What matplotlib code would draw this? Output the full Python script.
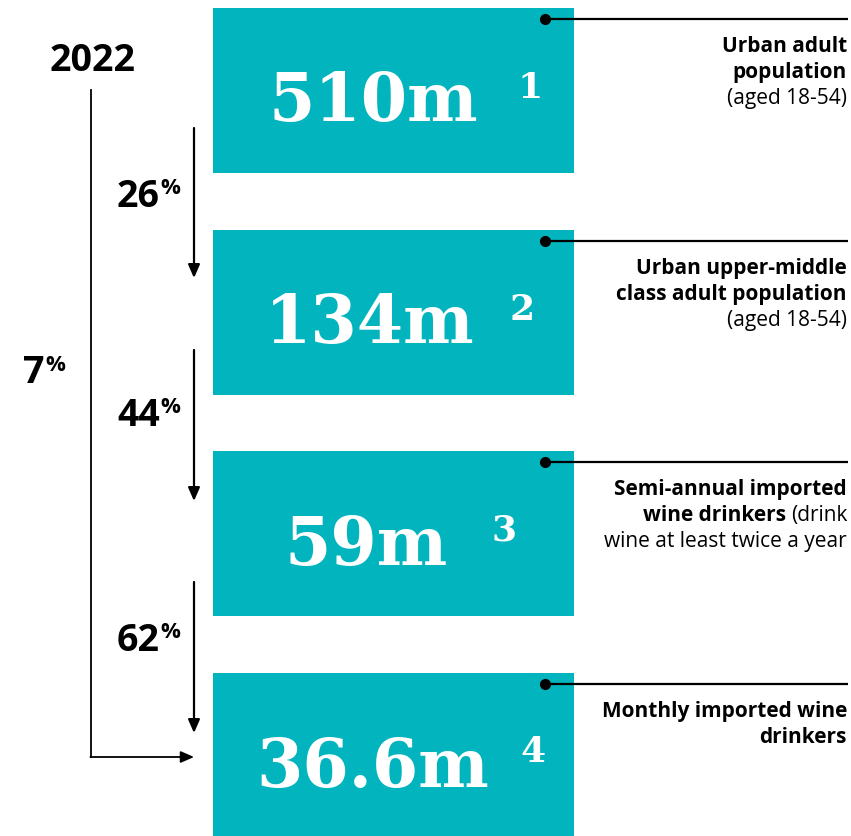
import matplotlib
matplotlib.use("Agg")
import matplotlib.pyplot as plt

# funnel figures, 2022
values = ["510m", "134m", "59m", "36.6m"]
notes = ["1", "2", "3", "4"]
step_pct = ["26", "44", "62"]
total_pct = "7"
year = "2022"

# each label: list of lines, each line a list of (text, weight) pieces
labels = [
    [[("Urban adult", "bold")],
     [("population", "bold")],
     [("(aged 18-54)", "normal")]],
    [[("Urban upper-middle", "bold")],
     [("class adult population", "bold")],
     [("(aged 18-54)", "normal")]],
    [[("Semi-annual imported", "bold")],
     [("wine drinkers", "bold"), ("(drink", "normal")],
     [("wine at least twice a year", "normal")]],
    [[("Monthly imported wine", "bold")],
     [("drinkers", "bold")]],
]

TEAL = "#02B4BE"
SANS = "Open Sans"
SERIF = "DejaVu Serif"

W, H = 851, 836
fig = plt.figure(figsize=(W / 100, H / 100), dpi=100)
ax = fig.add_axes([0, 0, 1, 1])
ax.set_xlim(0, W)
ax.set_ylim(H, 0)
ax.axis("off")

box_left, box_w, box_h = 213, 361, 165
row_top = [8, 230, 451, 673]
centers = [t + box_h / 2 for t in row_top]
ax.barh(centers, box_w, left=box_left, height=box_h, color=TEAL, linewidth=0)

num_x = [268, 265, 285, 256]
sup_x = [518, 510, 492, 520]
for i, c in enumerate(centers):
    ax.text(num_x[i], c + 31, values[i], color="white", fontsize=48,
            fontfamily=SERIF, fontweight="bold", ha="left", va="baseline")
    ax.text(sup_x[i], c + 7, notes[i], color="white", fontsize=26,
            fontfamily=SERIF, fontweight="bold", ha="left", va="baseline")

# leader lines with dots and the labels on the right
renderer = fig.canvas.get_renderer()
right = 847
for i, t in enumerate(row_top):
    ly = t + 11
    ax.plot([545, 848], [ly, ly], color="black", lw=1.6, solid_capstyle="butt")
    ax.plot(545, ly, "o", color="black", ms=7)
    for j, line in enumerate(labels[i]):
        by = ly + 33 + 26 * j
        x = right
        for text, weight in reversed(line):
            txt = ax.text(x, by, text, fontsize=15, fontfamily=SANS,
                          fontweight=weight, ha="right", va="baseline",
                          color="black")
            bb = txt.get_window_extent(renderer)
            x -= bb.width + 5

# step arrows between the boxes
arrow_x = 194
arrow_spans = [(128, 278), (350, 501), (582, 733)]
pct_y = [193, 412, 637]
for (y0, y1), p, py in zip(arrow_spans, step_pct, pct_y):
    ax.annotate("", xy=(arrow_x, y1), xytext=(arrow_x, y0),
                arrowprops=dict(arrowstyle="-|>,head_length=0.8,head_width=0.35",
                                color="black", lw=1.6, shrinkA=0, shrinkB=0))
    ax.text(160, py + 14, p, fontsize=27, fontfamily=SANS, fontweight="bold",
            ha="right", va="baseline")
    ax.text(160, py + 1, "%", fontsize=16, fontfamily=SANS, fontweight="bold",
            ha="left", va="baseline")

# overall conversion arrow
ax.plot([91, 91], [90, 757], color="black", lw=1.3)
ax.annotate("", xy=(arrow_x, 757), xytext=(90.4, 757),
            arrowprops=dict(arrowstyle="-|>,head_length=0.8,head_width=0.35",
                            color="black", lw=1.3, shrinkA=0, shrinkB=0))
ax.text(45, 383, total_pct, fontsize=27, fontfamily=SANS, fontweight="bold",
        ha="right", va="baseline")
ax.text(45, 371, "%", fontsize=16, fontfamily=SANS, fontweight="bold",
        ha="left", va="baseline")

ax.text(93, 71, year, fontsize=27, fontfamily=SANS, fontweight="bold",
        ha="center", va="baseline")

fig.savefig("out.png", dpi=100)
